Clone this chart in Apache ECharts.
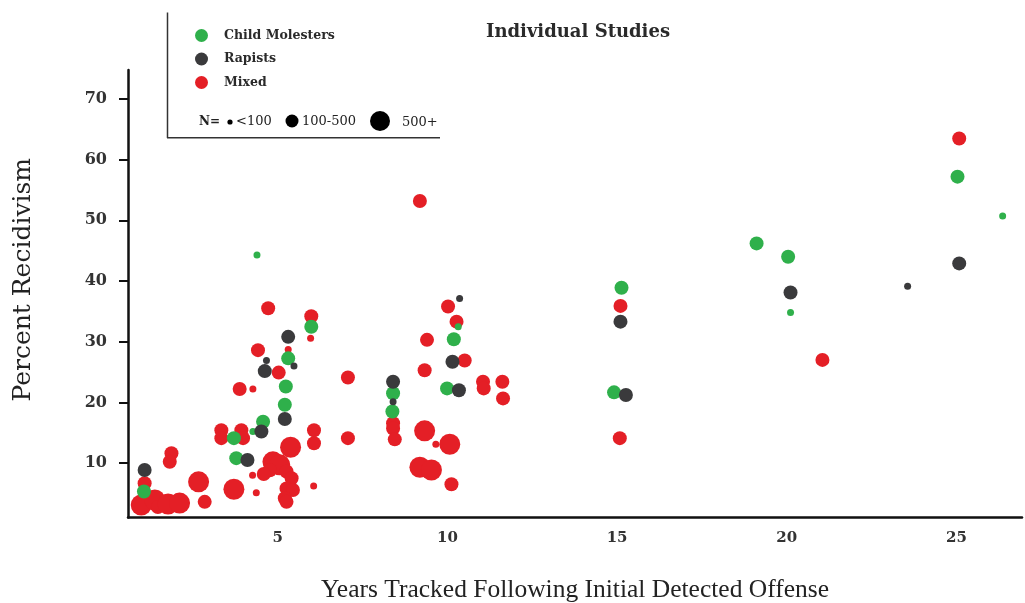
<!DOCTYPE html>
<html>
<head>
<meta charset="utf-8">
<script src="https://cdn.jsdelivr.net/npm/echarts@6/dist/echarts.min.js"></script>
<style>html,body{margin:0;padding:0;background:#fff}#c{width:1025px;height:603px}</style>
</head>
<body>
<div id="c"></div>
<script>
// Size classes: 0 = N<100, 1 = N 100-500, 2 = N 500+
const childYears = [1.06, 3.71, 4.57, 4.27, 3.78, 5.21, 5.99, 5.31, 5.24, 4.39, 10.32, 10.19, 8.40, 8.38, 9.99, 25.03, 26.36, 19.11, 20.04, 15.13, 20.11, 14.91];
const childPct   = [5.3, 14.1, 16.8, 15.2, 10.8, 19.6, 32.45, 27.25, 22.6, 44.3, 32.45, 30.4, 21.5, 18.5, 22.3, 57.2, 50.7, 46.2, 44.0, 38.9, 34.8, 21.65];
const childN     = [1, 1, 1, 0, 1, 1, 1, 1, 1, 0, 0, 1, 1, 1, 1, 1, 0, 1, 1, 1, 0, 1];

const rapistYears = [1.08, 4.52, 4.11, 5.21, 5.31, 5.48, 4.67, 4.62, 10.36, 10.15, 8.40, 8.40, 10.34, 25.08, 23.56, 20.11, 15.10, 15.26];
const rapistPct   = [8.85, 15.2, 10.5, 17.25, 30.8, 26.0, 26.9, 25.15, 37.1, 26.7, 23.4, 20.1, 22.0, 42.9, 39.15, 38.1, 33.3, 21.2];
const rapistN     = [1, 1, 1, 1, 1, 0, 0, 1, 0, 1, 1, 0, 1, 1, 0, 1, 1, 1];

const mixedYears = [1.08, 0.98, 1.38, 1.47, 1.77, 2.11, 1.87, 1.82, 2.67, 2.85, 3.34, 3.34, 3.93, 3.98, 3.71, 4.26, 4.37,
  4.86, 5.06, 5.26, 4.77, 4.59, 5.41, 5.26, 5.45, 5.21, 5.26, 5.38, 6.07, 6.07, 6.06, 4.72, 5.99, 5.97, 5.31, 4.42, 5.03,
  3.88, 4.27, 10.02, 10.27, 9.40, 10.51, 9.33, 7.07, 8.40, 8.40, 8.45, 11.05, 11.07, 11.62, 11.64, 7.07, 9.33, 9.66, 10.07,
  9.19, 9.53, 10.12, 9.19, 25.08, 15.10, 21.05, 15.08];
const mixedPct = [6.66, 3.08, 3.9, 2.75, 3.25, 3.4, 11.6, 10.2, 6.9, 3.6, 15.4, 14.1, 15.4, 14.1, 5.67, 8.0, 5.1,
  10.2, 9.7, 8.6, 8.8, 8.2, 7.5, 5.8, 5.55, 4.2, 3.6, 12.6, 15.4, 13.25, 6.2, 35.5, 34.2, 30.55, 28.7, 28.6, 24.9,
  22.2, 22.2, 35.8, 33.3, 30.3, 26.9, 25.3, 24.1, 16.55, 15.7, 13.9, 23.4, 22.3, 23.4, 20.65, 14.1, 15.3, 13.1, 13.1,
  9.3, 8.85, 6.5, 53.2, 63.5, 35.9, 27.0, 14.1];
const mixedN = [1, 2, 2, 1, 2, 2, 1, 1, 2, 1, 1, 1, 1, 1, 2, 0, 0,
  2, 2, 1, 1, 1, 1, 1, 1, 1, 1, 2, 1, 1, 0, 1, 1, 0, 0, 1, 1,
  1, 0, 1, 1, 1, 1, 1, 1, 1, 1, 1, 1, 1, 1, 1, 1, 2, 0, 2,
  2, 2, 1, 1, 1, 1, 1, 1];

const xTickLabels = [5, 10, 15, 20, 25];
const yTickLabels = [10, 20, 30, 40, 50, 60, 70];
const seriesNames = ['Child Molesters', 'Rapists', 'Mixed'];

const diam = [7, 14, 21];
function zip(xs, ys, ns) { return xs.map((x, i) => [x, ys[i], ns[i]]); }

const GREEN = '#2fb04b', GREY = '#3a3a3c', RED = '#e41f26';
const SERIF = 'DejaVu Serif';

const chart = echarts.init(document.getElementById('c'), null, {renderer: 'canvas'});
chart.setOption({
  animation: false,
  backgroundColor: '#fff',
  title: {
    text: 'Individual Studies', left: 573, top: 18, textAlign: 'center',
    textStyle: {fontFamily: SERIF, fontSize: 18, fontWeight: 'bold', color: '#2a2a2a'}
  },
  grid: {left: 128, right: 3, top: 70, bottom: 85.5, containLabel: false, outerBoundsMode: 'none'},
  legend: {
    orient: 'vertical', left: 190, top: 24, itemWidth: 13, itemHeight: 13, itemGap: 10.5,
    icon: 'circle',
    data: seriesNames,
    textStyle: {fontFamily: SERIF, fontSize: 12.5, fontWeight: 'bold', color: '#2a2a2a', padding: [0, 0, 0, 11]}
  },
  xAxis: {
    type: 'value', min: 0.59, max: 26.93,
    name: 'Years Tracked Following Initial Detected Offense', nameLocation: 'middle', nameGap: 60,
    nameTextStyle: {fontFamily: 'Liberation Serif', fontSize: 25.5, color: '#222'},
    axisLine: {show: true, onZero: false, lineStyle: {color: '#111', width: 2.5}},
    axisTick: {show: false},
    splitLine: {show: false},
    axisLabel: {customValues: xTickLabels, margin: 13, fontFamily: SERIF, fontSize: 15, fontWeight: 'bold', color: '#333'}
  },
  yAxis: {
    type: 'value', min: 1.02, max: 74.78,
    name: 'Percent Recidivism', nameLocation: 'middle', nameGap: 92, nameRotate: 90,
    nameTextStyle: {fontFamily: SERIF, fontSize: 25, color: '#222', padding: [0, 0, 0, 28]},
    axisLine: {show: true, onZero: false, lineStyle: {color: '#111', width: 2.5}},
    axisTick: {show: true, customValues: yTickLabels, length: 9, lineStyle: {color: '#111', width: 2}},
    splitLine: {show: false},
    axisLabel: {customValues: yTickLabels, margin: 21, fontFamily: SERIF, fontSize: 16, fontWeight: 'bold', color: '#333'}
  },
  graphic: [
    {type: 'line', shape: {x1: 167.5, y1: 12.5, x2: 167.5, y2: 138}, style: {stroke: '#333', lineWidth: 1.5}},
    {type: 'line', shape: {x1: 167, y1: 137.7, x2: 440, y2: 137.7}, style: {stroke: '#333', lineWidth: 1.5}},
    {type: 'text', x: 199, y: 122, style: {text: 'N=', fontFamily: SERIF, fontSize: 12, fontWeight: 'bold', fill: '#222', verticalAlign: 'middle'}},
    {type: 'circle', shape: {cx: 230, cy: 122, r: 2.6}, style: {fill: '#000'}},
    {type: 'text', x: 236, y: 122, style: {text: '<100', fontFamily: SERIF, fontSize: 13, fill: '#222', verticalAlign: 'middle'}},
    {type: 'circle', shape: {cx: 292, cy: 121, r: 6.5}, style: {fill: '#000'}},
    {type: 'text', x: 302, y: 122, style: {text: '100-500', fontFamily: SERIF, fontSize: 13, fill: '#222', verticalAlign: 'middle'}},
    {type: 'circle', shape: {cx: 380, cy: 121, r: 10}, style: {fill: '#000'}},
    {type: 'text', x: 402, y: 123, style: {text: '500+', fontFamily: SERIF, fontSize: 13, fill: '#222', verticalAlign: 'middle'}}
  ],
  series: [
    {name: 'Mixed', type: 'scatter', data: zip(mixedYears, mixedPct, mixedN),
     symbolSize: v => diam[v[2]], itemStyle: {color: RED, opacity: 1}, z: 2},
    {name: 'Child Molesters', type: 'scatter', data: zip(childYears, childPct, childN),
     symbolSize: v => diam[v[2]], itemStyle: {color: GREEN, opacity: 1}, z: 3},
    {name: 'Rapists', type: 'scatter', data: zip(rapistYears, rapistPct, rapistN),
     symbolSize: v => diam[v[2]], itemStyle: {color: GREY, opacity: 1}, z: 4}
  ]
});
</script>
</body>
</html>
